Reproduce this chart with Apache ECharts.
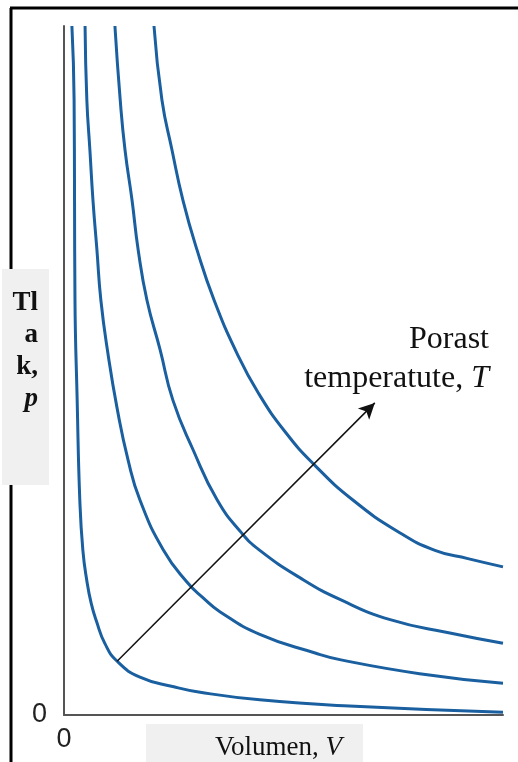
<!DOCTYPE html>
<html>
<head>
<meta charset="utf-8">
<script src="https://cdn.jsdelivr.net/npm/echarts@6/dist/echarts.min.js"></script>
<style>
  html, body { margin: 0; padding: 0; background: #fff; }
  #chart { width: 518px; height: 762px; }
</style>
</head>
<body>
<div id="chart"></div>
<script>
// isotermy p(V), [V, p]
const isoterma1 = [[0.18, 10], [0.23, 8.93], [0.24, 7.47], [0.25, 6.02], [0.30, 4.57], [0.36, 3.12], [0.43, 2.39], [0.52, 1.95], [0.62, 1.62], [0.74, 1.36], [0.93, 1.04], [1.21, 0.78], [1.73, 0.55], [2.5, 0.41], [3.10, 0.33], [4.46, 0.22], [6.5, 0.13], [10, 0.04]]
const isoterma2 = [[0.48, 10], [0.52, 8.93], [0.59, 8.2], [0.66, 7.47], [0.75, 6.75], [0.84, 6.02], [1.0, 5.25], [1.21, 4.45], [1.46, 3.7], [1.73, 3.12], [2.26, 2.4], [2.80, 1.93], [3.17, 1.70], [3.55, 1.50], [4.46, 1.17], [5.72, 0.9], [6.31, 0.80], [8.1, 0.6], [10, 0.46]]
const isoterma3 = [[1.16, 10], [1.28, 8.93], [1.39, 8.2], [1.55, 7.47], [1.69, 6.75], [1.89, 6.02], [2.19, 5.3], [2.48, 4.57], [2.94, 3.85], [3.49, 3.12], [4.05, 2.64], [4.46, 2.39], [5.38, 1.99], [6.31, 1.67], [7.45, 1.38], [8.79, 1.19], [10, 1.04]]
const isoterma4 = [[2.05, 10], [2.23, 8.93], [2.46, 8.2], [2.71, 7.47], [3.03, 6.75], [3.42, 6.02], [3.94, 5.25], [4.42, 4.68], [5.05, 4.1], [5.72, 3.62], [6.58, 3.12], [7.61, 2.66], [8.45, 2.39], [9.2, 2.27], [10, 2.15]]
// šipka růstu teploty
const sipkaStart = [1.21, 0.78]
const sipkaKonec = [7.08, 4.53]
const osaTicks = [0]

const chart = echarts.init(document.getElementById('chart'))
const modra = '#1a5f9f'

const krivka = (data) => ({
  type: 'line',
  data: data,
  smooth: 0.5,
  showSymbol: false,
  lineStyle: { color: modra, width: 3 },
  silent: true
})

const option = {
  animation: false,
  grid: { left: 64, right: 15, top: 26, bottom: 47 },
  xAxis: {
    type: 'value', min: 0, max: 10, interval: 10,
    axisLine: { show: true, lineStyle: { color: '#555', width: 2 } },
    axisTick: { show: false },
    splitLine: { show: false },
    axisLabel: {
      margin: 11, fontSize: 27, color: '#222', fontFamily: 'Liberation Sans',
      formatter: v => osaTicks.includes(v) ? String(v) : ''
    }
  },
  yAxis: {
    type: 'value', min: 0, max: 10, interval: 10,
    axisLine: { show: true, lineStyle: { color: '#555', width: 2 } },
    axisTick: { show: false },
    splitLine: { show: false },
    axisLabel: {
      margin: 17, fontSize: 27, color: '#222', fontFamily: 'Liberation Sans',
      formatter: v => osaTicks.includes(v) ? String(v) : ''
    }
  },
  series: [
    krivka(isoterma1),
    krivka(isoterma2),
    krivka(isoterma3),
    krivka(isoterma4),
    {
      type: 'line',
      data: [],
      silent: true,
      markLine: {
        silent: true,
        symbol: ['none', 'arrow'],
        symbolSize: [12, 16],
        label: { show: false },
        lineStyle: { color: '#111', width: 1.5, type: 'solid' },
        data: [[{ coord: sipkaStart }, { coord: sipkaKonec }]]
      }
    }
  ],
  graphic: [
    // rámeček
    { type: 'line', shape: { x1: 10, y1: 8, x2: 518, y2: 8 }, style: { stroke: '#000', lineWidth: 3 } },
    { type: 'line', shape: { x1: 11, y1: 8, x2: 11, y2: 762 }, style: { stroke: '#000', lineWidth: 3 } },
    // popisek osy y
    { type: 'rect', shape: { x: 2, y: 269, width: 47, height: 216 }, style: { fill: '#f0f0f0' }, z: 10 },
    {
      type: 'text', x: 38, y: 287, z: 11,
      style: {
        text: '{b|Tl}\n{b|a}\n{b|k,}\n{bi|p}', align: 'right',
        rich: {
          b: { font: 'bold 27px "Liberation Serif"', fill: '#111', lineHeight: 32, align: 'right' },
          bi: { font: 'italic bold 27px "Liberation Serif"', fill: '#111', lineHeight: 32, align: 'right' }
        }
      }
    },
    // popisek osy x
    { type: 'rect', shape: { x: 146, y: 724, width: 217, height: 38 }, style: { fill: '#f0f0f0' }, z: 10 },
    {
      type: 'text', x: 215, y: 748, z: 11,
      style: {
        text: '{n|Volumen, }{i|V}', verticalAlign: 'middle',
        rich: {
          n: { font: '27px "Liberation Serif"', fill: '#111' },
          i: { font: 'italic 27px "Liberation Serif"', fill: '#111' }
        }
      }
    },
    // popisek šipky
    {
      type: 'text', x: 489, y: 340, z: 11,
      style: {
        text: 'Porast', font: '32px "Liberation Serif"', fill: '#111',
        align: 'right', verticalAlign: 'middle'
      }
    },
    {
      type: 'text', x: 489, y: 379, z: 11,
      style: {
        text: '{n|temperatute, }{i|T}', align: 'right', verticalAlign: 'middle',
        rich: {
          n: { font: '32px "Liberation Serif"', fill: '#111' },
          i: { font: 'italic 32px "Liberation Serif"', fill: '#111' }
        }
      }
    }
  ]
}

chart.setOption(option)
</script>
</body>
</html>
